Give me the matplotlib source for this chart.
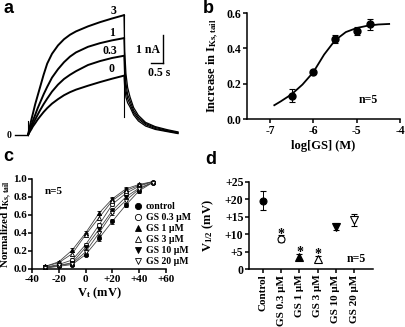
import matplotlib
matplotlib.use('Agg')
import matplotlib.pyplot as plt

plt.rcParams['font.family'] = ['Liberation Serif', 'DejaVu Serif']
plt.rcParams['font.weight'] = 'bold'
plt.rcParams['axes.labelweight'] = 'bold'
plt.rcParams['mathtext.fontset'] = 'custom'
plt.rcParams['mathtext.rm'] = 'Liberation Serif:bold'
plt.rcParams['mathtext.it'] = 'Liberation Serif:bold'
plt.rcParams['mathtext.bf'] = 'Liberation Serif:bold'

W, H = 406, 327

# ---- panel a : current traces (nA vs s)
trace_t = [0, 0.05, 0.1, 0.15, 0.2, 0.3, 0.4, 0.5, 0.65, 0.8, 1.0, 1.25, 1.5, 1.75, 2.0, 2.5, 3.0, 3.5, 4.0]
trace_names = ['3', '1', '0.3', '0']
trace_3 = [0, 0.2, 0.4, 0.58, 0.75, 1.1, 1.4, 1.7, 2.15, 2.55, 2.9, 3.2, 3.42, 3.58, 3.7, 3.88, 4.03, 4.16, 4.28]
trace_1 = [0, 0.12, 0.25, 0.37, 0.5, 0.72, 0.95, 1.15, 1.45, 1.72, 2.05, 2.35, 2.6, 2.8, 2.95, 3.15, 3.28, 3.38, 3.46]
trace_03 = [0, 0.1, 0.2, 0.29, 0.38, 0.55, 0.72, 0.88, 1.1, 1.3, 1.55, 1.8, 2.0, 2.15, 2.28, 2.5, 2.64, 2.75, 2.83]
trace_0 = [0, 0.08, 0.15, 0.22, 0.3, 0.42, 0.55, 0.66, 0.82, 0.96, 1.12, 1.28, 1.42, 1.53, 1.62, 1.76, 1.89, 2.01, 2.12]
tail_t = [4.0, 4.03, 4.08, 4.15, 4.25, 4.4, 4.6, 4.9, 5.3, 5.8, 6.25]
tail_3 = [4.28, 3.0, 2.2, 1.7, 1.36, 0.98, 0.7, 0.45, 0.3, 0.19, 0.11]
tail_1 = [3.46, 2.5, 1.85, 1.45, 1.22, 0.88, 0.63, 0.41, 0.27, 0.16, 0.09]
tail_03 = [2.83, 2.1, 1.6, 1.3, 1.1, 0.8, 0.57, 0.37, 0.23, 0.14, 0.07]
tail_0 = [2.12, 1.7, 1.35, 1.15, 1.0, 0.72, 0.5, 0.32, 0.2, 0.12, 0.05]
step_artifact = 0.64
onset_spike = 0.5

# ---- panel b : concentration response
b_logc = [-6.5, -6.0, -5.5, -5.0, -4.7]
b_inc = [0.132, 0.265, 0.453, 0.496, 0.536]
b_err = [0.035, 0.012, 0.02, 0.022, 0.03]
b_fit_x = [-6.9, -6.75, -6.5, -6.25, -6.0, -5.75, -5.5, -5.25, -5.0, -4.75, -4.5, -4.25]
b_fit_y = [0.078, 0.10, 0.14, 0.195, 0.265, 0.365, 0.445, 0.492, 0.515, 0.528, 0.535, 0.538]

# ---- panel c : activation curves
c_v = [-30, -20, -10, 0, 10, 20, 30, 40, 50]
c_labels = ['control', 'GS 0.3 \u03bcM', 'GS 1 \u03bcM', 'GS 3 \u03bcM', 'GS 10 \u03bcM', 'GS 20 \u03bcM']
c_control = [0.01, 0.03, 0.05, 0.16, 0.34, 0.53, 0.71, 0.87, 0.96]
c_gs03 = [0.02, 0.05, 0.10, 0.27, 0.49, 0.72, 0.84, 0.92, 0.97]
c_gs1 = [0.03, 0.08, 0.21, 0.40, 0.62, 0.78, 0.89, 0.94, 0.97]
c_gs3 = [0.03, 0.07, 0.17, 0.38, 0.57, 0.76, 0.87, 0.93, 0.97]
c_gs10 = [0.02, 0.04, 0.07, 0.24, 0.44, 0.65, 0.80, 0.90, 0.96]
c_gs20 = [0.01, 0.04, 0.06, 0.19, 0.40, 0.62, 0.76, 0.89, 0.96]
c_err = [0.01, 0.01, 0.02, 0.02, 0.025, 0.025, 0.025, 0.02, 0.01]

# ---- panel d : V1/2
d_labels = ['Control', 'GS 0.3 \u03bcM', 'GS 1 \u03bcM', 'GS 3 \u03bcM', 'GS 10 \u03bcM', 'GS 20 \u03bcM']
d_v12 = [19.6, 8.7, 3.5, 3.0, 12.1, 14.1]
d_err = [2.7, 1.0, 0.8, 0.8, 1.0, 1.6]
d_sig = [False, True, True, True, False, False]

styles = [('o', 'k'), ('o', 'white'), ('^', 'k'), ('^', 'white'), ('v', 'k'), ('v', 'white')]

fig = plt.figure(figsize=(W / 100, H / 100), dpi=100)


def box(x0, y0, x1, y1):
    # pixel box (top-left origin) -> figure fractions
    return [x0 / W, 1 - y1 / H, (x1 - x0) / W, (y1 - y0) / H]


def style_axes(ax, size=8.5):
    for s in ['top', 'right']:
        ax.spines[s].set_visible(False)
    for s in ['left', 'bottom']:
        ax.spines[s].set_linewidth(1.1)
    ax.tick_params(direction='out', length=3, width=1.1, labelsize=size, pad=1)


def bold_ticks(ax):
    for t in ax.get_xticklabels() + ax.get_yticklabels():
        t.set_fontweight('bold')


# panel a
axa = fig.add_axes(box(0, 0, 200, 160))
axa.set_xlim(-28 / 24, 172 / 24)
axa.set_ylim(-25 / 28, 135 / 28)
axa.axis('off')
for rise, tail in [(trace_3, tail_3), (trace_1, tail_1), (trace_03, tail_03), (trace_0, tail_0)]:
    axa.plot(trace_t, rise, color='k', lw=1.4, solid_joinstyle='round')
    axa.plot(tail_t, tail, color='k', lw=0.9, solid_joinstyle='round')
axa.plot([trace_t[-1], trace_t[-1]], [trace_3[-1], step_artifact], color='k', lw=0.8)
axa.plot([0, 0], [0, onset_spike], color='k', lw=0.8)
axa.plot([-0.55, -0.05], [0, 0], color='k', lw=1.0)
axa.text(-0.8, 0, '0', fontsize=7, ha='center', va='center')
for name, yv, xv in zip(trace_names, [4.43, 3.64, 3.0, 2.36], [3.55, 3.5, 3.42, 3.5]):
    axa.text(xv, yv, name, fontsize=8.5, ha='center', va='center')
axa.plot([5.625, 5.625], [3.57, 2.57], color='k', lw=1.0)
axa.plot([5.125, 5.625], [2.57, 2.57], color='k', lw=1.0)
axa.text(5.5, 3.04, '1 nA', fontsize=8.5, ha='right', va='center')
axa.text(5.45, 2.22, '0.5 s', fontsize=8.5, ha='center', va='center')

# panel b
axb = fig.add_axes(box(247, 13, 400, 119))
style_axes(axb)
axb.plot(b_fit_x, b_fit_y, color='k', lw=1.3)
axb.errorbar(b_logc, b_inc, yerr=b_err, fmt='o', color='k', ms=5, capsize=2.5, elinewidth=0.8, capthick=0.8)
axb.set_xlim(-7.53, -4)
axb.set_ylim(0, 0.6)
axb.set_xticks([-7, -6, -5, -4])
axb.set_xticklabels(['-7', '-6', '-5', '-4'])
axb.set_yticks([0, 0.2, 0.4, 0.6])
axb.set_yticklabels(['0.0', '0.2', '0.4', '0.6'])
bold_ticks(axb)
axb.set_xlabel('log[GS] (M)', fontsize=9)
axb.set_ylabel(r'Increase in I$_{\rm Ks,tail}$', fontsize=9)
axb.xaxis.set_label_coords(0.5, -0.2)
axb.yaxis.set_label_coords(-0.17, 0.5)
axb.text(-4.74, 0.108, 'n=5', fontsize=8.5, ha='center', va='center')

# panel c
axc = fig.add_axes(box(32, 179, 166, 269))
style_axes(axc, size=8)
axc.tick_params(axis='y', pad=0.5)
for vals, (m, fc), lab in zip([c_control, c_gs03, c_gs1, c_gs3, c_gs10, c_gs20], styles, c_labels):
    axc.plot(c_v, vals, color='#444444', lw=0.6)
    axc.errorbar(c_v, vals, yerr=c_err, fmt=m, mfc=fc, mec='k', color='k', ms=3, mew=0.6,
                 capsize=1.2, elinewidth=0.5, capthick=0.5, label=lab)
axc.set_xlim(-40, 60)
axc.set_ylim(0, 1.0)
axc.set_xticks([-40, -20, 0, 20, 40, 60])
axc.set_xticklabels(['-40', '-20', '0', '+20', '+40', '+60'])
axc.set_yticks([0, 0.2, 0.4, 0.6, 0.8, 1.0])
axc.set_yticklabels(['0.0', '0.2', '0.4', '0.6', '0.8', '1.0'])
bold_ticks(axc)
axc.set_xlabel(r'V$_{\rm t}$ (mV)', fontsize=9)
axc.set_ylabel(r'Normalized I$_{\rm Ks,tail}$', fontsize=8)
axc.xaxis.set_label_coords(0.5, -0.18)
axc.yaxis.set_label_coords(-0.132, 0.5)
axc.text(-24, 0.86, 'n=5', fontsize=8, ha='center', va='center')
handles, labels = axc.get_legend_handles_labels()
hs = [h[0] for h in handles]
leg = axc.legend(hs, labels, loc='upper left', bbox_to_anchor=(0.77, 0.74), frameon=False,
                 fontsize=7, handlelength=0.6, handletextpad=0.5, labelspacing=0.2,
                 borderpad=0, borderaxespad=0, markerscale=1.5)

# panel d
axd = fig.add_axes(box(249, 182, 373, 269))
style_axes(axd)
pos = list(range(len(d_labels)))
for p, v, e, (m, fc), sig in zip(pos, d_v12, d_err, styles, d_sig):
    axd.errorbar([p], [v], yerr=[e], fmt=m, mfc=fc, mec='k', color='k', ms=5 if m == 'o' else 5.5,
                 mew=0.8, capsize=2, elinewidth=0.7, capthick=0.7)
    if sig:
        axd.text(p, v + e + 0.3, '*', fontsize=10, ha='center', va='center')
axd.set_xlim(-0.77, 6.04)
axd.set_ylim(0, 25)
axd.set_xticks(pos)
axd.set_xticklabels(d_labels, rotation=90, fontsize=8)
axd.set_yticks([0, 5, 10, 15, 20, 25])
axd.set_yticklabels(['0', '+5', '+10', '+15', '+20', '+25'])
bold_ticks(axd)
axd.set_ylabel(r'V$_{1/2}$ (mV)', fontsize=9)
axd.yaxis.set_label_coords(-0.266, 0.5)
axd.text(5.1, 2.9, 'n=5', fontsize=8.5, ha='center', va='center')

# panel letters
for letter, px, py in [('a', 4, 13), ('b', 203, 13), ('c', 3, 161), ('d', 205, 164)]:
    fig.text(px / W, 1 - py / H, letter, fontsize=13, fontweight='bold',
             family='Liberation Sans', ha='left', va='baseline')

fig.savefig('out.png', dpi=100)
